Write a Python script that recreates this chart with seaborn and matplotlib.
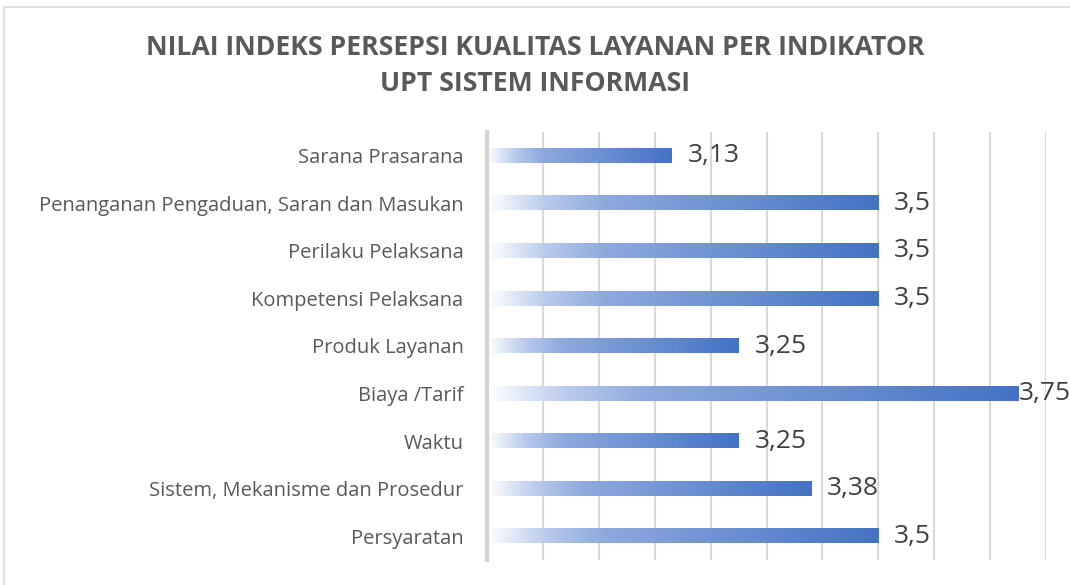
import numpy as np
import pandas as pd
import matplotlib.pyplot as plt
import seaborn as sns
from matplotlib.colors import LinearSegmentedColormap
from matplotlib.patches import Rectangle

categories = [
    "Sarana Prasarana",
    "Penanganan Pengaduan, Saran dan Masukan",
    "Perilaku Pelaksana",
    "Kompetensi Pelaksana",
    "Produk Layanan",
    "Biaya /Tarif",
    "Waktu",
    "Sistem, Mekanisme dan Prosedur",
    "Persyaratan",
]
values = [3.13, 3.5, 3.5, 3.5, 3.25, 3.75, 3.25, 3.38, 3.5]
value_labels = ["3,13", "3,5", "3,5", "3,5", "3,25", "3,75", "3,25", "3,38", "3,5"]

df = pd.DataFrame({"Indikator": categories, "Nilai": values})

sns.set_style("white")
plt.rcParams["font.family"] = ["Open Sans", "DejaVu Sans"]

fig = plt.figure(figsize=(10.7, 5.85), dpi=100)
ax = fig.add_axes([487 / 1070, 1 - 560 / 585, (1046 - 487) / 1070, (560 - 132) / 585])

sns.barplot(data=df, x="Nilai", y="Indikator", orient="h", width=0.3,
            color="#4472C4", ax=ax)

ax.set_xticks(np.arange(2.8, 3.81, 0.1))
ax.set_xticklabels([])
ax.tick_params(axis="x", length=0)
ax.tick_params(axis="y", length=0, pad=17, labelsize=14.5, labelcolor="#595959")
ax.grid(axis="x", color="#d9d9d9", linewidth=1.5)
ax.set_axisbelow(True)
for side in ["top", "right", "bottom"]:
    ax.spines[side].set_visible(False)
ax.spines["left"].set_color("#d4d4d4")
ax.spines["left"].set_linewidth(3)
ax.set_xlabel("")
ax.set_ylabel("")

# gradient fill: white -> light blue -> #4472C4
cmap = LinearSegmentedColormap.from_list(
    "grad", [(0, "#ffffff"), (0.15, "#b9cbec"), (0.3, "#8ea9de"), (1, "#4472C4")])
grad = np.linspace(0, 1, 256).reshape(1, -1)
xmin = 2.8
for patch in ax.patches:
    x0 = max(patch.get_x(), xmin)
    x1 = patch.get_x() + patch.get_width()
    y0 = patch.get_y()
    y1 = y0 + patch.get_height()
    ax.imshow(grad, cmap=cmap, aspect="auto", extent=[x0, x1, y1, y0],
              zorder=patch.get_zorder() + 0.1, interpolation="bilinear")
    patch.set_facecolor("none")
    patch.set_edgecolor("none")
ax.set_xlim(2.8, 3.8)
ax.set_ylim(8.5, -0.5)

for i, (v, lab) in enumerate(zip(values, value_labels)):
    off = 1 if v >= 3.75 else 16
    ax.annotate(lab, (v, i), xytext=(off, 0), textcoords="offset pixels",
                va="center", ha="left", fontsize=19, color="#404040",
                annotation_clip=False)

fig.text(0.5, 1 - 48 / 585, "NILAI INDEKS PERSEPSI KUALITAS LAYANAN PER INDIKATOR",
         ha="center", va="center", fontsize=19.2, fontweight="bold", color="#595959")
fig.text(0.5, 1 - 84 / 585, "UPT SISTEM INFORMASI",
         ha="center", va="center", fontsize=19.2, fontweight="bold", color="#595959")

fig.patches.append(Rectangle((4 / 1070, -0.1), 2, 1 - 7 / 585 + 0.1,
                             transform=fig.transFigure, fill=False,
                             edgecolor="#d9d9d9", linewidth=1.2))

fig.savefig("out.png", dpi=100)
